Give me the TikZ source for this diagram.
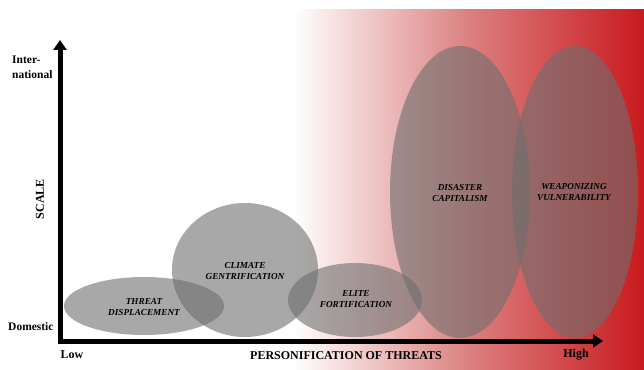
\documentclass[tikz,border=0pt]{standalone}
\usepackage{fontspec}
\setmainfont{Liberation Serif}
\usetikzlibrary{arrows.meta}
\definecolor{redend}{RGB}{200,26,30}
\definecolor{redmid}{RGB}{220,128,128}
\definecolor{blobgray}{RGB}{110,110,110}
\tikzset{
  blob/.style={fill=blobgray, fill opacity=0.6, draw=none},
  blobtext/.style={font=\fontsize{9.2}{11}\selectfont\bfseries\itshape, align=center, text=black, inner sep=0pt},
  axislabel/.style={font=\fontsize{12}{14}\selectfont\bfseries, text=black, inner sep=0pt},
  axisline/.style={line width=5pt, black, line join=miter, {Triangle[length=10pt,width=13pt]}-{Triangle[length=10pt,width=13pt]}}
}
\begin{document}
\begin{tikzpicture}[x=1pt,y=-1pt]
\useasboundingbox (0,0) rectangle (644,369);
% gradient background
\shade[left color=white, right color=redend, middle color=redmid, draw=none] (293,10) rectangle (644,369);
% ellipses
\fill[blob] (144,306) ellipse [x radius=80, y radius=29];
\fill[blob] (245,270) ellipse [x radius=73, y radius=67];
\fill[blob] (355,300) ellipse [x radius=67, y radius=37];
\fill[blob] (460,192) ellipse [x radius=70, y radius=146];
\fill[blob] (575,192) ellipse [x radius=63, y radius=146];
% ellipse labels
\node[blobtext] (td) at (144,307.5) {THREAT\\DISPLACEMENT};
\node[blobtext] (cg) at (245,271) {CLIMATE\\GENTRIFICATION};
\node[blobtext] (ef) at (356,299.5) {ELITE\\FORTIFICATION};
\node[blobtext] (dc) at (460,192.5) {DISASTER\\CAPITALISM};
\node[blobtext] (wv) at (574,192.5) {WEAPONIZING\\VULNERABILITY};
% axes
\coordinate (ytop) at (60,40);
\coordinate (origin) at (60,341);
\coordinate (xend) at (603,341);
\draw[axisline] (ytop) -- (origin) -- (xend);
% axis labels
\node[axislabel, anchor=west, align=left, font=\fontsize{11.5}{15}\selectfont\bfseries] (intl) at (12,67.5) {Inter-\\national};
\node[axislabel, rotate=90] (scale) at (40,199) {SCALE};
\node[axislabel, anchor=west, font=\fontsize{11.5}{14}\selectfont\bfseries] (dom) at (8,327) {Domestic};
\node[axislabel] (low) at (72,355) {Low};
\node[axislabel] (pers) at (346,356) {PERSONIFICATION OF THREATS};
\node[axislabel] (high) at (576,355) {High};
\end{tikzpicture}
\end{document}
